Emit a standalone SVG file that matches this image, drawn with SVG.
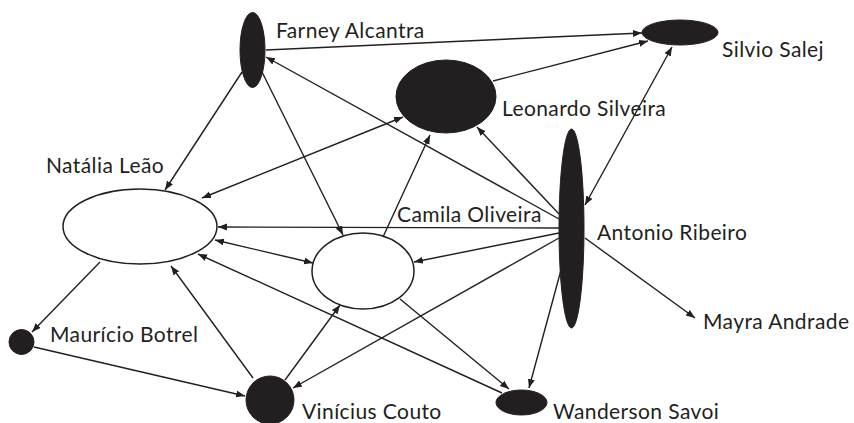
<svg xmlns="http://www.w3.org/2000/svg" width="854" height="423" viewBox="0 0 854 423">
<style>
.bk{fill:#231f20;stroke:#231f20;stroke-width:1}
.wh{fill:#fff;stroke:#231f20;stroke-width:1.5}
.lb{font-family:Lato,"Liberation Sans",sans-serif;font-size:21px;letter-spacing:0.4px;fill:#231f20}
.e{fill:none;stroke:#231f20;stroke-width:1.4;marker-end:url(#ah)}
.b{marker-start:url(#ah)}
</style>
<defs>
<marker id="ah" markerUnits="userSpaceOnUse" markerWidth="10" markerHeight="8" refX="9" refY="3.5" orient="auto-start-reverse">
<path d="M0,0 L9,3.5 L0,7 z" fill="#231f20"/>
</marker>
</defs>
<rect width="854" height="423" fill="#fff"/>
<g id="connectors">
<path class="e" d="M266,50 L642,33"/>
<path class="e" d="M493,81 L648,41"/>
<path class="e" d="M559,219 L266,57"/>
<path class="e" d="M559,214 L477,127"/>
<path class="e b" d="M672,47 L585,205"/>
<path class="e" d="M242,72 L165,190"/>
<path class="e" d="M262,72 L343,235"/>
<path class="e b" d="M403,117 L202,198"/>
<path class="e" d="M559,228 L218,227"/>
<path class="e b" d="M215,240 L313,263"/>
<path class="e" d="M383,237 L430,135"/>
<path class="e" d="M559,233 L414,262"/>
<path class="e" d="M253,378 L171,266"/>
<path class="e" d="M100,262 L32,332"/>
<path class="e" d="M34,347 L245,396"/>
<path class="e" d="M285,380 L340,305"/>
<path class="e" d="M559,238 L293,388"/>
<path class="e" d="M502,393 L198,254"/>
<path class="e" d="M400,299 L509,389"/>
<path class="e" d="M561,270 L529,388"/>
<path class="e" d="M585,238 L695,318"/>
</g>
<g id="farney"><ellipse class="bk" cx="252.5" cy="50" rx="12.5" ry="37.5"/><text class="lb" x="276" y="38">Farney Alcantra</text></g>
<g id="silvio"><ellipse class="bk" cx="680" cy="32.5" rx="38" ry="12.5"/><text class="lb" x="722" y="57">Silvio Salej</text></g>
<g id="leonardo"><ellipse class="bk" cx="446" cy="96.5" rx="50" ry="36.5"/><text class="lb" x="502" y="116">Leonardo Silveira</text></g>
<g id="natalia"><ellipse class="wh" cx="140" cy="226.5" rx="77" ry="37.5"/><text class="lb" x="46" y="173">Natália Leão</text></g>
<g id="camila"><ellipse class="wh" cx="363" cy="271" rx="51" ry="38"/><text class="lb" x="397" y="222">Camila Oliveira</text></g>
<g id="antonio"><ellipse class="bk" cx="571.5" cy="228.5" rx="12.5" ry="99.5"/><text class="lb" x="597" y="240">Antonio Ribeiro</text></g>
<g id="mayra"><text class="lb" x="703" y="329">Mayra Andrade</text></g>
<g id="mauricio"><circle class="bk" cx="21.5" cy="342" r="12.5"/><text class="lb" x="50" y="342">Maurício Botrel</text></g>
<g id="vinicius"><circle class="bk" cx="270" cy="400" r="24"/><text class="lb" x="302" y="419">Vinícius Couto</text></g>
<g id="wanderson"><ellipse class="bk" cx="521.5" cy="402.5" rx="25.5" ry="12.5"/><text class="lb" x="553" y="419">Wanderson Savoi</text></g>
</svg>
